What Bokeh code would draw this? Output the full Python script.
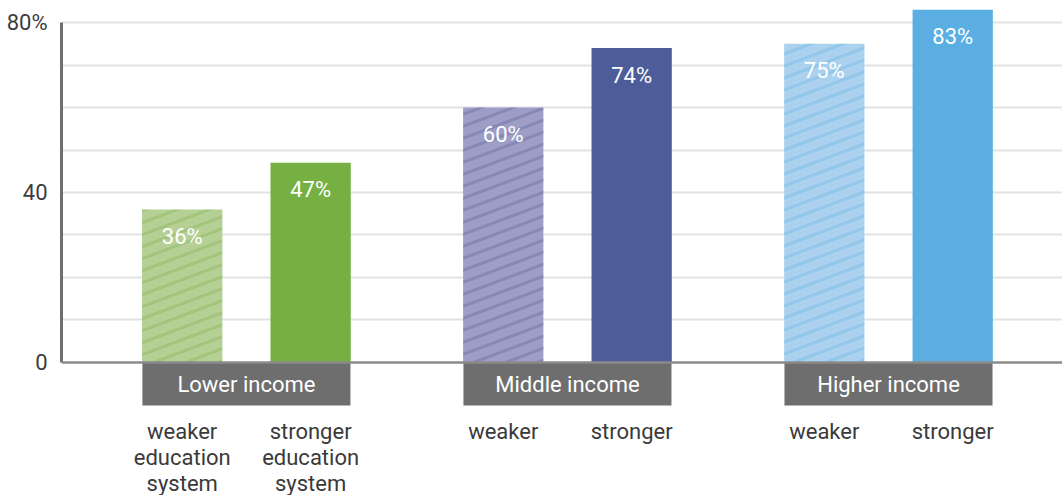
import zlib, struct, base64
import numpy as np
from bokeh.plotting import figure
from bokeh.models import Range1d, FixedTicker, Span, ColumnDataSource, ImageURLTexture
from bokeh.core.properties import value
from bokeh.embed import file_html
from bokeh.resources import INLINE

# ---------------- data ----------------
groups = ["Lower income", "Middle income", "Higher income"]
weaker = [36, 60, 75]
stronger = [47, 74, 83]
weaker_labels = ["weaker\neducation\nsystem", "weaker", "weaker"]
stronger_labels = ["stronger\neducation\nsystem", "stronger", "stronger"]
y_ticks = [0, 40, 80]
grid_ticks = [10, 20, 30, 40, 50, 60, 70, 80]

weaker_colors = ["#b6cf95", "#9d9dc5", "#acd1ef"]
stronger_colors = ["#76b043", "#4d5d99", "#5aaee2"]

# ---------------- layout ----------------
FONT = "Roboto"
OFFSET = 0.2
BAR_W = 0.25
BOX_HALF = 0.324
BOX_DEPTH = 10.1


def stripe_texture(hex_color, alpha=0.32, w=32, h=12, thick=3.0):
    r, g, b = (int(hex_color[i:i + 2], 16) for i in (1, 3, 5))
    ang = np.arctan2(h, w)
    rows = []
    for y in range(h):
        row = bytearray()
        for x in range(w):
            yc = y + 0.5
            line_y = h - (x + 0.5) * h / w
            d = (yc - line_y) % h
            d = min(d, h - d)
            perp = d * np.cos(ang)
            cov = max(0.0, min(1.0, thick / 2 + 0.5 - perp))
            row += bytes([r, g, b, int(round(255 * alpha * cov))])
        rows.append(bytes(row))
    raw = b"".join(b"\x00" + rw for rw in rows)

    def chunk(t, d):
        c = struct.pack(">I", len(d)) + t + d
        return c + struct.pack(">I", zlib.crc32(t + d) & 0xFFFFFFFF)

    png = (b"\x89PNG\r\n\x1a\n"
           + chunk(b"IHDR", struct.pack(">IIBBBBB", w, h, 8, 6, 0, 0, 0))
           + chunk(b"IDAT", zlib.compress(raw))
           + chunk(b"IEND", b""))
    return ImageURLTexture(url="data:image/png;base64," + base64.b64encode(png).decode(),
                           repetition="repeat")


pos = list(range(len(groups)))
wx = [g - OFFSET for g in pos]
sx = [g + OFFSET for g in pos]

p = figure(width=1062, height=495, output_backend="svg", toolbar_location=None,
           x_range=Range1d(-0.576, 2.542), y_range=Range1d(-31.3, 85.18),
           x_axis_location=None, min_border_left=61, min_border_right=0,
           min_border_top=0, min_border_bottom=0)
p.outline_line_color = None
p.background_fill_color = "white"
p.border_fill_color = "white"
p.xgrid.visible = False
p.ygrid.ticker = FixedTicker(ticks=grid_ticks)
p.ygrid.grid_line_color = "#e2e2e2"
p.ygrid.grid_line_width = 2

ax = p.yaxis[0]
ax.ticker = FixedTicker(ticks=y_ticks)
ax.bounds = (0, 80)
ax.axis_line_color = "#6f6f6f"
ax.axis_line_width = 3
ax.major_tick_line_color = None
ax.major_tick_out = 0
ax.major_tick_in = 0
ax.minor_tick_line_color = None
ax.minor_tick_out = 0
ax.major_label_standoff = 14
ax.major_label_text_font = FONT
ax.major_label_text_font_size = "22px"
ax.major_label_text_color = "#3d3d3d"
ax.major_label_overrides = {80: "80%"}

# bars
hatch_keys = ["hg", "hp", "hb"]
textures = {k: stripe_texture(c) for k, c in zip(hatch_keys, stronger_colors)}
wsrc = ColumnDataSource(dict(x=wx, top=weaker, color=weaker_colors, hatch=hatch_keys))
p.vbar(x="x", top="top", width=BAR_W, bottom=0, source=wsrc, fill_color="color",
       line_color=None, hatch_pattern="hatch", hatch_extra=textures)
ssrc = ColumnDataSource(dict(x=sx, top=stronger, color=stronger_colors))
p.vbar(x="x", top="top", width=BAR_W, bottom=0, source=ssrc, fill_color="color",
       line_color=None)

# value labels
vsrc = ColumnDataSource(dict(x=wx + sx, y=weaker + stronger,
                             t=[f"{v}%" for v in weaker + stronger]))
p.text(x="x", y="y", text="t", source=vsrc, y_offset=27, text_align="center",
       text_baseline="middle", text_color="white", text_font=value(FONT),
       text_font_size="22px")

# group boxes
p.quad(left=[g - BOX_HALF for g in pos], right=[g + BOX_HALF for g in pos],
       top=0, bottom=-BOX_DEPTH, fill_color="#6e6e6e", line_color=None)
p.text(x=pos, y=[0] * len(pos), text=groups, y_offset=22, text_align="center",
       text_baseline="middle", text_color="white", text_font=value(FONT),
       text_font_size="22px")

# sub labels
p.text(x=wx + sx, y=[0] * (2 * len(pos)), text=weaker_labels + stronger_labels,
       y_offset=57, text_align="center", text_baseline="top", text_color="#3a3a3a",
       text_font=value(FONT), text_font_size="22px", text_line_height=1.04)

p.add_layout(Span(location=0, dimension="width", line_color="#8a8a8a", line_width=2.5))

open("out.html", "w").write(file_html(p, INLINE))
